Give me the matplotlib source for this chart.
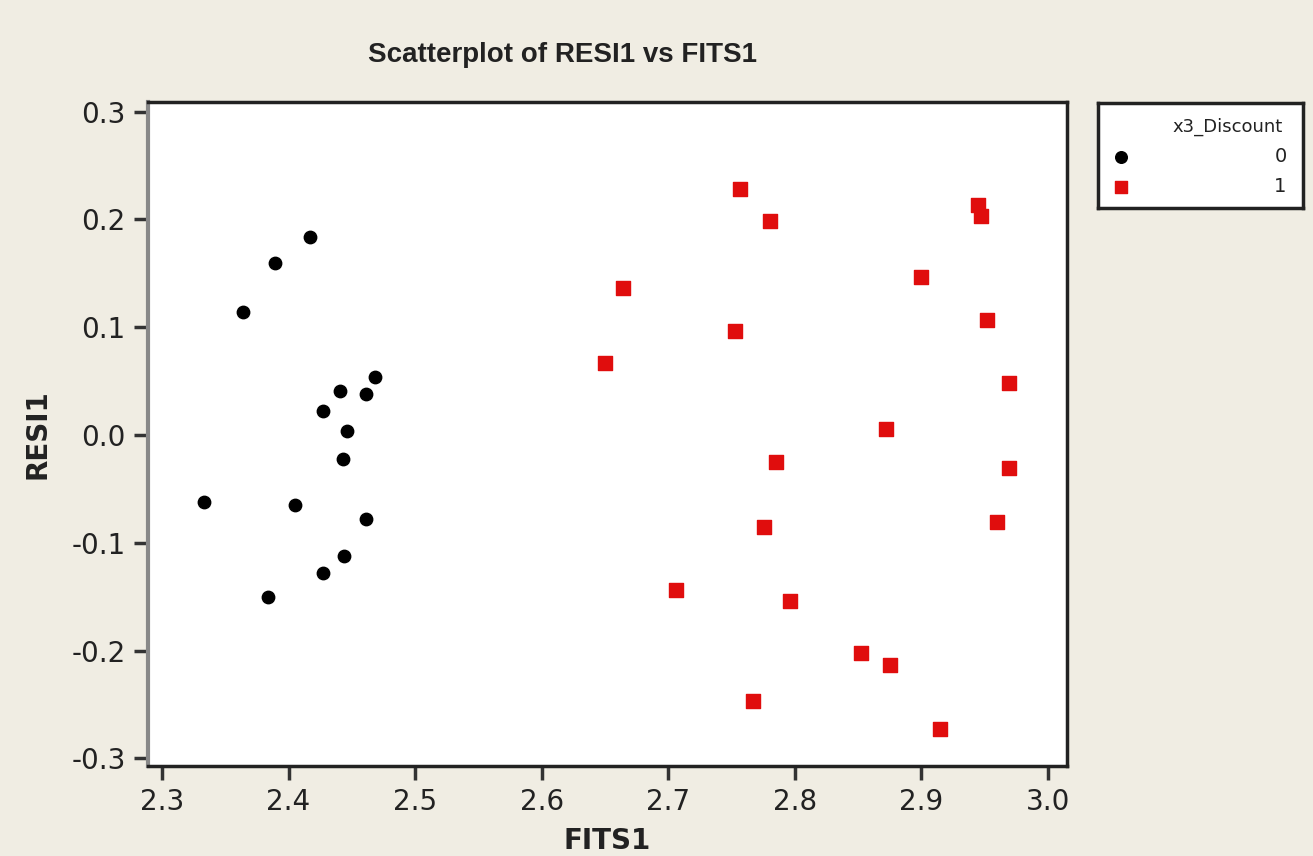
import matplotlib
matplotlib.use("Agg")
import matplotlib.pyplot as plt

# Data
fits_0 = [2.333, 2.364, 2.384, 2.389, 2.405, 2.417, 2.427, 2.427, 2.441, 2.443, 2.444, 2.446, 2.461, 2.461, 2.468]
resi_0 = [-0.062, 0.114, -0.150, 0.160, -0.065, 0.184, 0.022, -0.128, 0.041, -0.022, -0.112, 0.004, 0.038, -0.078, 0.054]
fits_1 = [2.650, 2.664, 2.706, 2.753, 2.757, 2.767, 2.776, 2.780, 2.785, 2.796, 2.852, 2.872, 2.875, 2.900,
          2.915, 2.945, 2.947, 2.952, 2.960, 2.969, 2.969]
resi_1 = [0.067, 0.136, -0.144, 0.097, 0.228, -0.247, -0.085, 0.199, -0.025, -0.154, -0.202, 0.006, -0.213, 0.147,
          -0.273, 0.213, 0.203, 0.107, -0.081, 0.048, -0.031]
x_ticks = [2.3, 2.4, 2.5, 2.6, 2.7, 2.8, 2.9, 3.0]
y_ticks = [0.3, 0.2, 0.1, 0.0, -0.1, -0.2, -0.3]
legend_title = "x3_Discount"
group_labels = ["0", "1"]

bg = "#f0ede3"
red = "#e00d0d"
fig = plt.figure(figsize=(13.13, 8.56), dpi=100, facecolor=bg)
ax = fig.add_axes([148/1313, 1 - 766/856, (1067-148)/1313, (766-102)/856])
ax.set_facecolor("white")
ax.scatter(fits_0, resi_0, marker="o", s=80, color="black", zorder=3)
ax.scatter(fits_1, resi_1, marker="s", s=90, color=red, zorder=3)
ax.set_xlim(2.289, 3.015)
ax.set_ylim(-0.307, 0.309)
ax.set_xticks(x_ticks)
ax.set_xticklabels([f"{v:.1f}" for v in x_ticks])
ax.set_yticks(y_ticks)
ax.set_yticklabels([f"{v:.1f}" for v in y_ticks])
ax.tick_params(axis="both", direction="out", length=10, width=2.5, color="#333333",
               labelsize=20, labelcolor="#222222", pad=6)
for side in ["top", "right", "bottom"]:
    ax.spines[side].set_color("#222222")
    ax.spines[side].set_linewidth(2.5)
ax.spines["left"].set_color("#888888")
ax.spines["left"].set_linewidth(3)
ax.set_xlabel("FITS1", fontsize=20, fontweight="bold", color="#222222", labelpad=8)
ax.set_ylabel("RESI1", fontsize=20, fontweight="bold", color="#222222", labelpad=14)
fig.text(562/1313, 1 - 55/856, "Scatterplot of RESI1 vs FITS1", ha="center", va="center",
         fontsize=20, fontweight="bold", color="#222222", family="Liberation Sans")

# Legend box
lax = fig.add_axes([1098/1313, 1 - 208/856, (1303-1098)/1313, (208-103)/856])
lax.set_facecolor("white")
lax.set_xlim(0, 1)
lax.set_ylim(0, 1)
lax.set_xticks([])
lax.set_yticks([])
for sp in lax.spines.values():
    sp.set_color("#222222")
    sp.set_linewidth(2.5)
lax.text(0.90, 0.77, legend_title, ha="right", va="center", fontsize=13, color="#222222")
lax.scatter([0.11], [0.49], marker="o", s=70, color="black")
lax.scatter([0.11], [0.20], marker="s", s=80, color=red)
lax.text(0.92, 0.49, group_labels[0], ha="right", va="center", fontsize=14, color="#222222")
lax.text(0.92, 0.20, group_labels[1], ha="right", va="center", fontsize=14, color="#222222")

fig.savefig("out.png", dpi=100, facecolor=bg)
